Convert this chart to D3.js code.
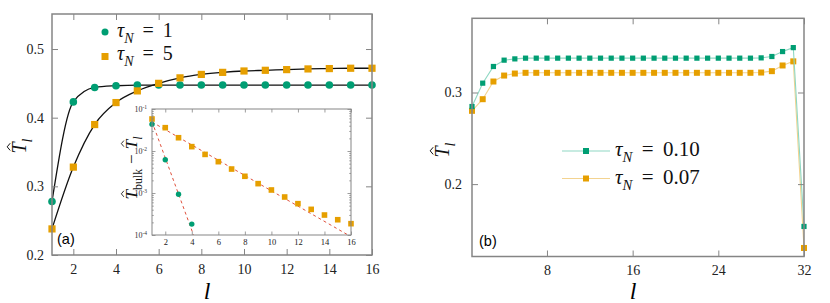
<!DOCTYPE html>
<html>
<head>
<meta charset="utf-8">
<script src="https://cdn.jsdelivr.net/npm/d3@7"></script>
<style>
  body { margin: 0; background: #fff; }
  svg { display: block; }
</style>
</head>
<body>
<svg id="fig" width="830" height="303"></svg>
<script>
// ---- panel (a): main curves
const lA = [1, 2, 3, 4, 5, 6, 7, 8, 9, 10, 11, 12, 13, 14, 15, 16];
const tauN1 = [0.278, 0.423, 0.444, 0.4465, 0.4475, 0.4475, 0.4475, 0.4475, 0.4475, 0.4475, 0.4475, 0.4475, 0.4475, 0.4475, 0.4475, 0.4475];
const tauN5 = [0.238, 0.328, 0.390, 0.422, 0.439, 0.450, 0.458, 0.463, 0.466, 0.468, 0.469, 0.470, 0.471, 0.4715, 0.472, 0.472];

// ---- panel (a): inset, T_bulk - T_l (log)
const lIn1 = [1, 2, 3, 4];
const dT1 = [0.0433, 0.0062, 0.00093, 0.000182];
const lIn5 = [1, 2, 3, 4, 5, 6, 7, 8, 9, 10, 11, 12, 13, 14, 15, 16];
const dT5 = [0.0578, 0.0359, 0.0207, 0.0127, 0.0083, 0.00557, 0.00372, 0.0025, 0.00167, 0.00118, 0.000803, 0.000557, 0.000408, 0.000299, 0.000231, 0.000186];
// exponential fits (straight on a log axis): end points
const fitL1 = [1, 4.13], fitV1 = [0.05, 1e-4];
const fitL5 = [1, 15.78], fitV5 = [0.049, 1e-4];

// ---- panel (b)
const lB = [1, 2, 3, 4, 5, 6, 7, 8, 9, 10, 11, 12, 13, 14, 15, 16, 17, 18, 19, 20, 21, 22, 23, 24, 25, 26, 27, 28, 29, 30, 31, 32];
const tau010 = [0.2847, 0.3102, 0.3284, 0.3353, 0.3367, 0.3375, 0.3375, 0.3375, 0.3375, 0.3375, 0.3375, 0.3375, 0.3375, 0.3375, 0.3375, 0.3375,
                0.3375, 0.3375, 0.3375, 0.3375, 0.3375, 0.3375, 0.3375, 0.3375, 0.3375, 0.3375, 0.3375, 0.3378, 0.3393, 0.3447, 0.349, 0.1538];
const tau007 = [0.280, 0.2927, 0.312, 0.3185, 0.3207, 0.3215, 0.3215, 0.3215, 0.3215, 0.3215, 0.3215, 0.3215, 0.3215, 0.3215, 0.3215, 0.3215,
                0.3215, 0.3215, 0.3215, 0.3215, 0.3215, 0.3215, 0.3215, 0.3215, 0.3215, 0.3215, 0.3215, 0.3218, 0.3233, 0.3295, 0.334, 0.1303];

const ticksAx = [2, 4, 6, 8, 10, 12, 14, 16];
const ticksAy = [0.2, 0.3, 0.4, 0.5];
const ticksInY = [1e-4, 1e-3, 1e-2, 1e-1];
const minorInY = [1e-4, 1e-3, 1e-2].flatMap(d => [2, 3, 4, 5, 6, 7, 8, 9].map(k => d * k));
const ticksBx = [8, 16, 24, 32];
const ticksBy = [0.2, 0.3];

const serif = "Liberation Serif";
const sans = "Liberation Sans";
const green = "#009e73", orange = "#e69f00";
const greenLine = "#8fd8c3", orangeLine = "#f3d390";
const frameCol = "#858585";

const fig = d3.select("#fig");

function axes(g, x, y, o) {
  const [x0, x1] = x.range(), [y0, y1] = y.range();
  const style = sel => {
    sel.attr("font-family", serif).attr("font-size", o.fs);
    sel.select(".domain").remove();
    sel.selectAll("line").attr("stroke", frameCol).attr("stroke-width", o.tw || 1);
    sel.selectAll("text").attr("fill", "#222");
  };
  g.append("g").attr("transform", `translate(0,${y0})`)
    .call(d3.axisBottom(x).tickValues(o.xt).tickSize(-o.ts).tickPadding(o.xp).tickFormat(d3.format("d"))).call(style);
  g.append("g").attr("transform", `translate(0,${y1})`)
    .call(d3.axisTop(x).tickValues(o.xt).tickSize(-o.ts).tickFormat("")).call(style);
  g.append("g").attr("transform", `translate(${x0},0)`)
    .call(d3.axisLeft(y).tickValues(o.yt).tickSize(-o.ts).tickPadding(o.yp).tickFormat(o.yf || d3.format(".1f"))).call(style);
  g.append("g").attr("transform", `translate(${x1},0)`)
    .call(d3.axisRight(y).tickValues(o.yt).tickSize(-o.ts).tickFormat("")).call(style);
  if (o.ym) {
    g.append("g").attr("transform", `translate(${x0},0)`)
      .call(d3.axisLeft(y).tickValues(o.ym).tickSize(-o.ts / 2).tickFormat("")).call(style);
    g.append("g").attr("transform", `translate(${x1},0)`)
      .call(d3.axisRight(y).tickValues(o.ym).tickSize(-o.ts / 2).tickFormat("")).call(style);
  }
  g.append("rect").attr("x", x0).attr("y", y1).attr("width", x1 - x0).attr("height", y0 - y1)
    .attr("fill", "none").attr("stroke", frameCol).attr("stroke-width", o.fw || 1.5);
}

// math-like text: pieces [{t, it, sub, hat, dx}]
function mathText(g, x, y, size, pieces, anchor) {
  const t = g.append("text").attr("x", x).attr("y", y)
    .attr("font-family", serif).attr("font-size", size).attr("fill", "#111")
    .attr("text-anchor", anchor || "start");
  let shifted = false, idx = 0;
  const hats = [];
  pieces.forEach(p => {
    const s = t.append("tspan").text(p.t);
    if (p.it) s.attr("font-style", "italic");
    if (p.sub) {
      s.attr("font-size", size * 0.7);
      if (!shifted) { s.attr("dy", size * 0.3); shifted = true; }
    } else if (shifted) { s.attr("dy", -size * 0.3); shifted = false; }
    if (p.dx) s.attr("dx", p.dx);
    if (p.hat) hats.push(idx);
    idx += p.t.length;
  });
  hats.forEach(i => {
    const e = t.node().getExtentOfChar(i);
    const cx = e.x + e.width * 0.6, top = e.y + e.height * 0.1;
    g.append("path")
      .attr("d", `M${cx - size * 0.18},${top} L${cx},${top - size * 0.15} L${cx + size * 0.18},${top}`)
      .attr("fill", "none").attr("stroke", "#111").attr("stroke-width", size * 0.05);
  });
  return t;
}

function tauLabel(g, x, y, size, val) {
  return mathText(g, x, y, size, [
    { t: "τ", it: true }, { t: "N", it: true, sub: true }, { t: "=", dx: size * 0.45 }, { t: val, dx: size * 0.45 }
  ]);
}

// ================= panel (a)
const gA = fig.append("g");
const xA = d3.scaleLinear().domain([1, 16]).range([52, 372]);
const yA = d3.scaleLinear().domain([0.2, 0.551]).range([255, 14]);

const lineA = d3.line().curve(d3.curveMonotoneX).x(d => xA(d[0])).y(d => yA(d[1]));
[tauN1, tauN5].forEach(s => {
  gA.append("path").datum(lA.map((l, i) => [l, s[i]])).attr("d", lineA)
    .attr("fill", "none").attr("stroke", "#111").attr("stroke-width", 1.3);
});
gA.selectAll(".c1").data(lA.map((l, i) => [l, tauN1[i]])).join("circle")
  .attr("cx", d => xA(d[0])).attr("cy", d => yA(d[1])).attr("r", 3.8).attr("fill", green);
gA.selectAll(".s5").data(lA.map((l, i) => [l, tauN5[i]])).join("rect")
  .attr("x", d => xA(d[0]) - 3.6).attr("y", d => yA(d[1]) - 3.6).attr("width", 7.2).attr("height", 7.2).attr("fill", orange);

axes(gA, xA, yA, { xt: ticksAx, yt: ticksAy, ts: 6, xp: 9, yp: 8, fs: 14 });

// legend (a)
gA.append("circle").attr("cx", 105).attr("cy", 32).attr("r", 3.5).attr("fill", green);
tauLabel(gA, 117, 37, 20, "1");
gA.append("rect").attr("x", 101.5).attr("y", 53).attr("width", 7).attr("height", 7).attr("fill", orange);
tauLabel(gA, 117, 60, 20, "5");

gA.append("text").attr("x", 57).attr("y", 244).attr("font-family", sans).attr("font-size", 14.5).text("(a)");

// axis labels (a)
const ylA = gA.append("g").attr("transform", "translate(26,146) rotate(-90)");
mathText(ylA, 0, 0, 20, [{ t: "T", it: true, hat: true }, { t: "l", it: true, sub: true }], "middle");
gA.append("text").attr("x", 207).attr("y", 299).attr("font-family", serif).attr("font-style", "italic")
  .attr("font-size", 24).attr("text-anchor", "middle").text("l");

// ---- inset
const gI = gA.append("g");
const xI = d3.scaleLinear().domain([1, 16]).range([152, 351]);
const yI = d3.scaleLog().domain([1e-4, 1e-1]).range([235, 109]);
gI.append("rect").attr("x", 152).attr("y", 109).attr("width", 199).attr("height", 126).attr("fill", "#fff");

const lineI = d3.line().x(d => xI(d[0])).y(d => yI(d[1]));
[[fitL1, fitV1], [fitL5, fitV5]].forEach(([ls, vs]) => {
  gI.append("path").datum(ls.map((l, i) => [l, vs[i]])).attr("d", lineI)
    .attr("fill", "none").attr("stroke", "#e0503c").attr("stroke-width", 1).attr("stroke-dasharray", "3,3");
});
gI.selectAll(".i5").data(lIn5.map((l, i) => [l, dT5[i]])).join("rect")
  .attr("x", d => xI(d[0]) - 2.8).attr("y", d => yI(d[1]) - 2.8).attr("width", 5.6).attr("height", 5.6).attr("fill", orange);
gI.selectAll(".i1").data(lIn1.map((l, i) => [l, dT1[i]])).join("circle")
  .attr("cx", d => xI(d[0])).attr("cy", d => yI(d[1])).attr("r", 2.7).attr("fill", green);

axes(gI, xI, yI, { xt: ticksAx, yt: ticksInY, ym: minorInY, ts: 3.5, xp: 4, yp: 4, fs: 8.5, fw: 1, tw: 0.8, yf: () => "" });
// 10^n labels
gI.selectAll(".inlab").data(ticksInY).join("text")
  .attr("x", 147).attr("y", d => yI(d) + 3).attr("text-anchor", "end")
  .attr("font-family", serif).attr("font-size", 8).attr("fill", "#333")
  .each(function (d) {
    const s = d3.select(this);
    s.append("tspan").text("10");
    s.append("tspan").attr("dy", -3).attr("font-size", 5.5).text(Math.round(Math.log10(d)));
  });

const ylI = gI.append("g").attr("transform", "translate(137,168) rotate(-90)");
mathText(ylI, 0, 0, 17, [
  { t: "T", it: true, hat: true }, { t: "bulk", sub: true }, { t: "−", dx: 5 }, { t: "T", it: true, hat: true, dx: 5 }, { t: "l", it: true, sub: true }
], "middle");

// ================= panel (b)
const gB = fig.append("g");
const xB = d3.scaleLinear().domain([1, 32]).range([472, 804]);
const yB = d3.scaleLinear().domain([0.121, 0.381]).range([256.5, 18.3]);
const lineB = d3.line().x(d => xB(d[0])).y(d => yB(d[1]));

[[tau007, orangeLine, orange, 6], [tau010, greenLine, green, 5.2]].forEach(([s, lc, mc, sz]) => {
  const pts = lB.map((l, i) => [l, s[i]]);
  gB.append("path").datum(pts).attr("d", lineB).attr("fill", "none").attr("stroke", lc).attr("stroke-width", 1.1);
  gB.append("g").selectAll("rect").data(pts).join("rect")
    .attr("x", d => xB(d[0]) - sz / 2).attr("y", d => yB(d[1]) - sz / 2).attr("width", sz).attr("height", sz).attr("fill", mc);
});

axes(gB, xB, yB, { xt: ticksBx, yt: ticksBy, ts: 6, xp: 9, yp: 10, fs: 14 });

// legend (b)
[[151, greenLine, green, "0.10", 156], [178.5, orangeLine, orange, "0.07", 184]].forEach(([yy, lc, mc, v, by]) => {
  gB.append("line").attr("x1", 562).attr("x2", 610).attr("y1", yy).attr("y2", yy).attr("stroke", lc).attr("stroke-width", 1.1);
  gB.append("rect").attr("x", 583).attr("y", yy - 3).attr("width", 6).attr("height", 6).attr("fill", mc);
  tauLabel(gB, 615, by, 21, v);
});

gB.append("text").attr("x", 479).attr("y", 246).attr("font-family", sans).attr("font-size", 14.5).text("(b)");

const ylB = gB.append("g").attr("transform", "translate(449,150) rotate(-90)");
mathText(ylB, 0, 0, 20, [{ t: "T", it: true, hat: true }, { t: "l", it: true, sub: true }], "middle");
gB.append("text").attr("x", 633).attr("y", 299).attr("font-family", serif).attr("font-style", "italic")
  .attr("font-size", 24).attr("text-anchor", "middle").text("l");
</script>
</body>
</html>
